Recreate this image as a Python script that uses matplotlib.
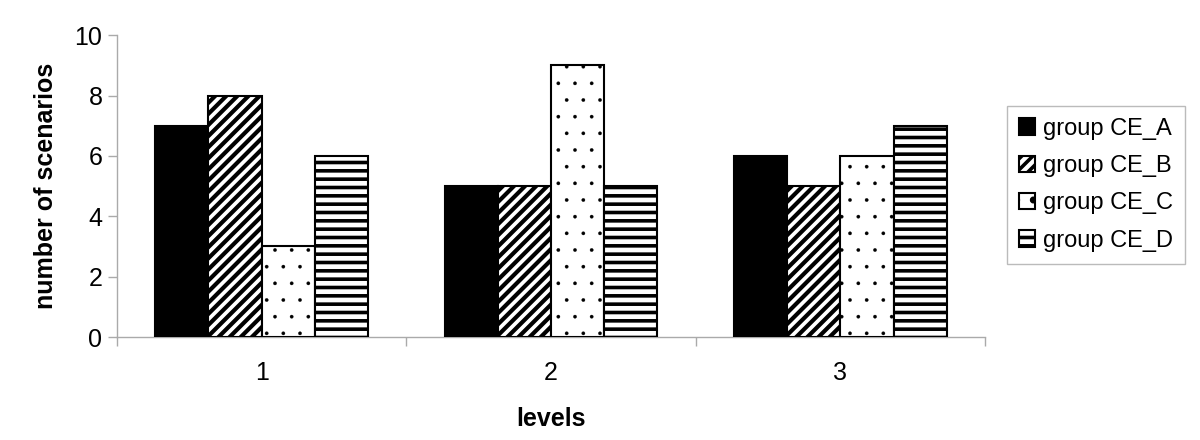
import matplotlib
matplotlib.use("Agg")
import matplotlib.pyplot as plt
import numpy as np

categories = ["1", "2", "3"]
series_names = ["group CE_A", "group CE_B", "group CE_C", "group CE_D"]
ce_a = [7, 5, 6]
ce_b = [8, 5, 5]
ce_c = [3, 9, 6]
ce_d = [6, 5, 7]
y_ticks = [0, 2, 4, 6, 8, 10]

series = [ce_a, ce_b, ce_c, ce_d]
faces = ["black", "white", "white", "white"]
hatches = [None, "///", ".", "--"]
hatch_lws = [1.0, 3.0, 0.2, 2.6]

plt.rcParams["font.family"] = ["Liberation Sans", "DejaVu Sans"]
plt.rcParams["hatch.color"] = "black"

fig = plt.figure(figsize=(12, 4.4), dpi=100)
ax = fig.add_axes([0.0975, 0.234, 0.7233, 0.686])

x = np.arange(len(categories))
w = 0.184
offsets = (np.arange(4) - 1.5) * w
handles = []
for vals, off, fc, h, hlw, name in zip(series, offsets, faces, hatches, hatch_lws, series_names):
    plt.rcParams["hatch.linewidth"] = hlw
    bars = ax.bar(x + off, vals, width=w, color=fc, edgecolor="black",
                  linewidth=1.5, hatch=h, label=name, zorder=3)
    for b in bars:
        if hasattr(b, "set_hatch_linewidth"):
            b.set_hatch_linewidth(hlw)
    handles.append(bars)

ax.set_xlim(-0.5, len(categories) - 0.5)
ax.set_ylim(0, 10)
ax.set_yticks(y_ticks)
ax.set_xticks(x)
ax.set_xticklabels(categories)
ax.set_xticks(np.arange(len(categories) + 1) - 0.5, minor=True)
ax.tick_params(axis="x", which="major", length=0, labelsize=18, pad=17)
ax.tick_params(axis="x", which="minor", length=6.5, color="#aaaaaa", width=1)
ax.tick_params(axis="y", which="major", length=6.5, color="#aaaaaa", width=1,
               labelsize=18, pad=4)

for s in ["top", "right"]:
    ax.spines[s].set_visible(False)
for s in ["left", "bottom"]:
    ax.spines[s].set_color("#aaaaaa")
    ax.spines[s].set_linewidth(1)

ax.set_xlabel("levels", fontsize=18, fontweight="bold", labelpad=16)
ax.set_ylabel("number of scenarios", fontsize=18, fontweight="bold", labelpad=12)

leg = fig.legend(handles=handles, labels=series_names, loc="center left",
                 bbox_to_anchor=(0.839, 0.58), bbox_transform=fig.transFigure,
                 fontsize=17, frameon=True, fancybox=False, shadow=False,
                 handlelength=0.7, handleheight=0.7, handletextpad=0.35,
                 labelspacing=0.65, borderpad=0.5, borderaxespad=0)
leg.get_frame().set_edgecolor("#aaaaaa")
leg.get_frame().set_linewidth(1)

fig.savefig("out.png", dpi=100)
